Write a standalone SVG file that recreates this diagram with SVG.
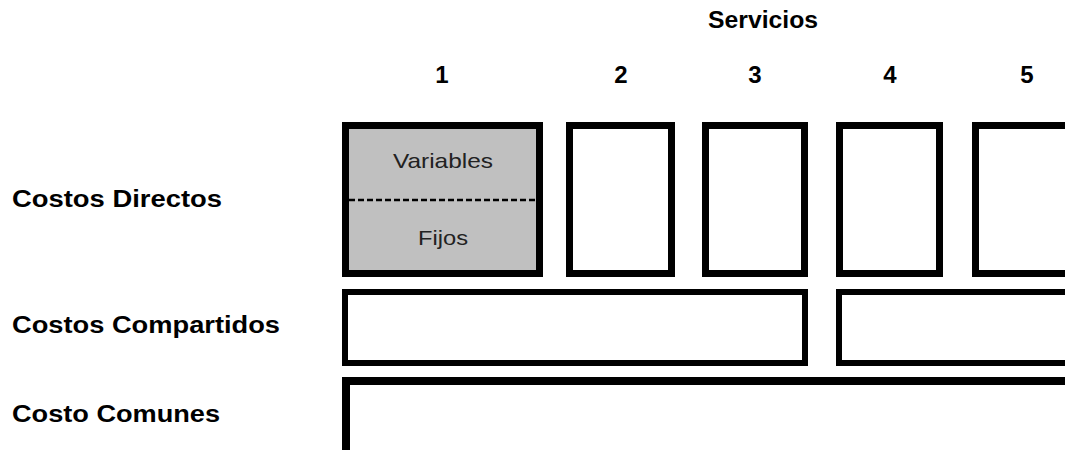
<svg xmlns="http://www.w3.org/2000/svg" width="1065" height="450" viewBox="0 0 1065 450">
<style>
.lbl{font-family:"Liberation Sans",Arial,sans-serif;font-weight:bold;font-size:23px;fill:#000}
.num{font-family:"Liberation Sans",Arial,sans-serif;font-weight:bold;font-size:24px;fill:#000;text-anchor:middle}
.in{font-family:"Liberation Sans",Arial,sans-serif;font-size:21px;fill:#222}
.box{fill:#fff;stroke:#000;stroke-width:7}
.wide{fill:#fff;stroke:#000;stroke-width:6}
</style>
<rect width="1065" height="450" fill="#fff"/>
<text class="lbl" x="708" y="28" textLength="110" lengthAdjust="spacingAndGlyphs">Servicios</text>
<g id="numbers">
<text class="num" x="442" y="83">1</text>
<text class="num" x="621" y="83">2</text>
<text class="num" x="755" y="83">3</text>
<text class="num" x="890" y="83">4</text>
<text class="num" x="1027" y="83">5</text>
</g>
<g id="row-labels">
<text class="lbl" x="12" y="207" textLength="210" lengthAdjust="spacingAndGlyphs">Costos Directos</text>
<text class="lbl" x="12" y="333" textLength="268" lengthAdjust="spacingAndGlyphs">Costos Compartidos</text>
<text class="lbl" x="12" y="422" textLength="208" lengthAdjust="spacingAndGlyphs">Costo Comunes</text>
</g>
<g id="servicio1">
<rect x="345.5" y="125.5" width="194" height="148" fill="#c0c0c0" stroke="#000" stroke-width="7"/>
<line x1="349" y1="200" x2="536" y2="200" stroke="#000" stroke-width="2.5" stroke-dasharray="6,3"/>
<text class="in" x="393" y="168" textLength="100" lengthAdjust="spacingAndGlyphs">Variables</text>
<text class="in" x="418" y="245" textLength="50" lengthAdjust="spacingAndGlyphs">Fijos</text>
</g>
<g id="servicio2"><rect class="box" x="569.5" y="125.5" width="102" height="148"/></g>
<g id="servicio3"><rect class="box" x="705.5" y="125.5" width="99" height="148"/></g>
<g id="servicio4"><rect class="box" x="839.5" y="125.5" width="100" height="148"/></g>
<g id="servicio5"><rect class="box" x="975.5" y="125.5" width="110" height="148"/></g>
<g id="compartidos1"><rect class="wide" x="345" y="292" width="460" height="71"/></g>
<g id="compartidos2"><rect class="wide" x="839" y="292" width="250" height="71"/></g>
<g id="comunes"><rect x="346" y="381" width="750" height="100" fill="#fff" stroke="#000" stroke-width="8"/></g>
<g id="connectors"></g>
</svg>
